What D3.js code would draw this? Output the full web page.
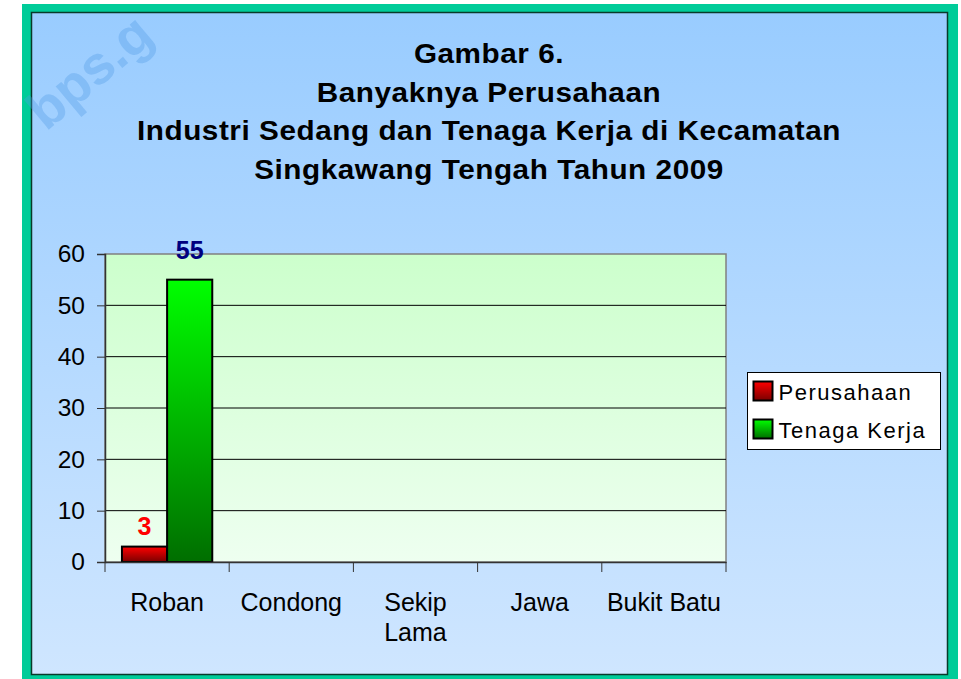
<!DOCTYPE html>
<html>
<head>
<meta charset="utf-8">
<script src="https://cdn.jsdelivr.net/npm/d3@7"></script>
<style>
  body { margin: 0; background: #fff; }
  svg { display: block; font-family: "Liberation Sans", Arial, sans-serif; }
</style>
</head>
<body>
<svg id="chart"></svg>
<script>
const width = 961;
const height = 679;

// data
const categories = ['Roban', 'Condong', 'Sekip Lama', 'Jawa', 'Bukit Batu'];
const seriesNames = ['Perusahaan', 'Tenaga Kerja'];
const perusahaan = [3, null, null, null, null];
const tenagaKerja = [55, null, null, null, null];
const yTicks = [0, 10, 20, 30, 40, 50, 60];
const titleLines = [
  'Gambar 6.',
  'Banyaknya Perusahaan',
  'Industri Sedang dan Tenaga Kerja di Kecamatan',
  'Singkawang Tengah Tahun 2009'
];

const svg = d3.select('#chart')
  .attr('width', width)
  .attr('height', height);

const defs = svg.append('defs');
const grad = (id, top, bottom) => {
  const g = defs.append('linearGradient')
    .attr('id', id)
    .attr('x1', 0).attr('y1', 0)
    .attr('x2', 0).attr('y2', 1);
  g.append('stop').attr('offset', '0%').attr('stop-color', top);
  g.append('stop').attr('offset', '100%').attr('stop-color', bottom);
};
grad('bgGrad', '#99ccff', '#cfe6ff');
grad('plotGrad', '#ccffcc', '#eefff0');
grad('redGrad', '#ff0000', '#7a0000');
grad('greenGrad', '#00ff00', '#006e00');

// outer frame
svg.append('rect')
  .attr('x', 22).attr('y', 4)
  .attr('width', 936).attr('height', height - 4)
  .attr('fill', '#00cc99');
svg.append('rect')
  .attr('x', 31.5).attr('y', 12.5)
  .attr('width', 916).attr('height', 662)
  .attr('fill', 'url(#bgGrad)')
  .attr('stroke', '#0a3a2a')
  .attr('stroke-width', 1.5);

// watermark (faint, top-left corner)
svg.append('text')
  .attr('transform', 'translate(46,132) rotate(-40)')
  .attr('font-size', 54)
  .attr('font-weight', 'bold')
  .attr('fill', '#4f9be6')
  .attr('fill-opacity', 0.35)
  .text('bps.g');

// title, slightly stretched horizontally like the original
const titleScale = 1.1;
svg.append('g')
  .attr('transform', `scale(${titleScale},1)`)
  .selectAll('text')
  .data(titleLines)
  .join('text')
  .attr('x', 489 / titleScale)
  .attr('y', (d, i) => 63 + i * 38.7)
  .attr('text-anchor', 'middle')
  .attr('font-size', 27)
  .attr('font-weight', 'bold')
  .attr('letter-spacing', 0.5)
  .attr('fill', '#000')
  .text(d => d);

// scales
const plot = { left: 105, right: 726, top: 254, bottom: 562 };
const x = d3.scaleBand()
  .domain(categories)
  .range([plot.left, plot.right]);
const y = d3.scaleLinear()
  .domain([0, 60])
  .range([plot.bottom, plot.top]);
const barW = x.bandwidth() / 2.75;
const xSeries = d3.scaleBand()
  .domain(seriesNames)
  .range([x.bandwidth() / 2 - barW, x.bandwidth() / 2 + barW]);

// plot area
svg.append('rect')
  .attr('x', plot.left).attr('y', plot.top)
  .attr('width', plot.right - plot.left)
  .attr('height', plot.bottom - plot.top)
  .attr('fill', 'url(#plotGrad)')
  .attr('stroke', '#808080')
  .attr('stroke-width', 1.5);

// gridlines
svg.append('g')
  .selectAll('line')
  .data(yTicks.filter(d => d > 0 && d < 60))
  .join('line')
  .attr('x1', plot.left).attr('x2', plot.right)
  .attr('y1', d => y(d)).attr('y2', d => y(d))
  .attr('stroke', '#000')
  .attr('stroke-width', 1);

// bars
const rows = categories.map((c, i) => ({ cat: c, values: [perusahaan[i], tenagaKerja[i]] }));
const fills = ['url(#redGrad)', 'url(#greenGrad)'];
const labelColors = ['#ff0000', '#000080'];
const labelGap = [12, 21];

const groups = svg.append('g')
  .selectAll('g')
  .data(rows)
  .join('g')
  .attr('transform', d => `translate(${x(d.cat)},0)`);

groups.selectAll('rect')
  .data(d => d.values.map((v, j) => ({ v, j })).filter(e => e.v != null))
  .join('rect')
  .attr('x', d => xSeries(seriesNames[d.j]))
  .attr('width', xSeries.bandwidth())
  .attr('y', d => y(d.v))
  .attr('height', d => y(0) - y(d.v))
  .attr('fill', d => fills[d.j])
  .attr('stroke', '#000')
  .attr('stroke-width', 2);

groups.selectAll('text')
  .data(d => d.values.map((v, j) => ({ v, j })).filter(e => e.v != null))
  .join('text')
  .attr('x', d => xSeries(seriesNames[d.j]) + xSeries.bandwidth() / 2)
  .attr('y', d => y(d.v) - labelGap[d.j])
  .attr('text-anchor', 'middle')
  .attr('font-size', 25)
  .attr('font-weight', 'bold')
  .attr('fill', d => labelColors[d.j])
  .text(d => d.v);

// y axis
const yAxis = svg.append('g')
  .attr('transform', `translate(${plot.left},0)`)
  .call(d3.axisLeft(y).tickValues(yTicks).tickSize(8).tickPadding(12));
yAxis.select('.domain').attr('stroke', '#333').attr('stroke-width', 1.5);
yAxis.selectAll('.tick line').attr('stroke', '#333');
yAxis.selectAll('.tick text')
  .attr('font-size', 24.5)
  .attr('font-family', '"Liberation Sans", Arial, sans-serif')
  .attr('fill', '#000');

// x axis
const xAxis = svg.append('g')
  .attr('transform', `translate(0,${plot.bottom})`)
  .call(d3.axisBottom(x).tickSize(0).tickFormat(''));
xAxis.select('.domain').attr('stroke', '#333').attr('stroke-width', 1.5);
xAxis.selectAll('.boundary')
  .data(d3.range(categories.length + 1))
  .join('line')
  .attr('x1', i => plot.left + i * x.step())
  .attr('x2', i => plot.left + i * x.step())
  .attr('y1', 0).attr('y2', 10)
  .attr('stroke', '#333');

const wrap = { 'Sekip Lama': ['Sekip', 'Lama'] };
svg.append('g')
  .selectAll('text')
  .data(categories)
  .join('text')
  .attr('x', d => x(d) + x.bandwidth() / 2)
  .attr('y', 611)
  .attr('text-anchor', 'middle')
  .attr('font-size', 25)
  .attr('fill', '#000')
  .each(function(d) {
    const lines = wrap[d] || [d];
    d3.select(this).selectAll('tspan')
      .data(lines)
      .join('tspan')
      .attr('x', x(d) + x.bandwidth() / 2)
      .attr('dy', (l, i) => i === 0 ? 0 : 29.5)
      .text(l => l);
  });

// legend
const legend = svg.append('g').attr('transform', 'translate(747.5,372.5)');
legend.append('rect')
  .attr('width', 193).attr('height', 77)
  .attr('fill', '#fff')
  .attr('stroke', '#000')
  .attr('stroke-width', 1);
const items = legend.selectAll('g')
  .data(seriesNames)
  .join('g')
  .attr('transform', (d, i) => `translate(6,${9 + i * 38})`);
items.append('rect')
  .attr('width', 19).attr('height', 19)
  .attr('fill', (d, i) => fills[i])
  .attr('stroke', '#000')
  .attr('stroke-width', 2);
items.append('text')
  .attr('x', 25).attr('y', 18)
  .attr('font-size', 22)
  .attr('letter-spacing', 1.5)
  .attr('fill', '#000')
  .text(d => d);
</script>
</body>
</html>
